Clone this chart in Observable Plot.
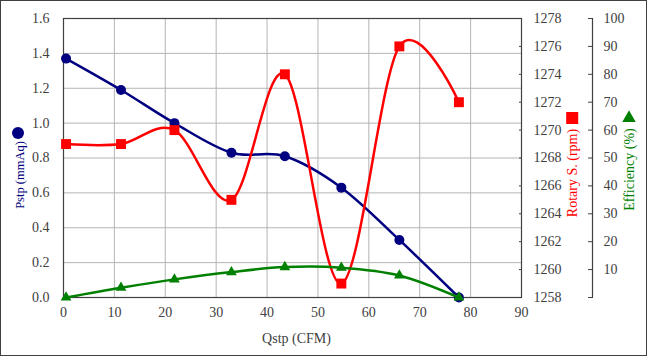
<!DOCTYPE html>
<html>
<head>
<meta charset="utf-8">
<script src="https://cdn.jsdelivr.net/npm/d3@7"></script>
<script src="https://cdn.jsdelivr.net/npm/@observablehq/plot@0.6"></script>
<style>
  html, body { margin: 0; padding: 0; background: white; }
  #wrap { position: relative; width: 647px; height: 356px; overflow: hidden; }
  #wrap svg { position: absolute; left: 0; top: 0; }
  #wrap svg text { font-family: "Liberation Serif", serif; }
  #border { position: absolute; left: 0; top: 0; width: 647px; height: 356px; box-sizing: border-box; border: 1px solid #404040; pointer-events: none; }
</style>
</head>
<body>
<div id="wrap"><div id="border"></div></div>
<script>
// ---- data ----
const qstp = [0.5, 11.3, 21.8, 33.0, 43.5, 54.6, 66.0, 77.7];
const pstp = [1.37, 1.19, 1.00, 0.83, 0.81, 0.63, 0.33, 0.00];
const rpm  = [1269, 1269, 1270, 1265, 1274, 1259, 1276, 1272];
const eff  = [0, 3.5, 6.5, 9.1, 10.9, 10.7, 7.9, 0];

const xTicks = [0, 10, 20, 30, 40, 50, 60, 70, 80, 90];
const pTicks = [0, 0.2, 0.4, 0.6, 0.8, 1.0, 1.2, 1.4, 1.6];
const rTicks = [1258, 1260, 1262, 1264, 1266, 1268, 1270, 1272, 1274, 1276, 1278];
const eTicks = [0, 10, 20, 30, 40, 50, 60, 70, 80, 90, 100];
const eLabelTicks = [10, 20, 30, 40, 50, 60, 70, 80, 90, 100];

const xTitle = "Qstp (CFM)";
const pTitle = "Pstp (mmAq)";
const rTitle = "Rotary S. (rpm)";
const eTitle = "Efficiency (%)";

const rows = qstp.map((q, i) => ({q, p: pstp[i], r: rpm[i], e: eff[i]}));

const NAVY = "#000080", RED = "#ff0000", GREEN = "#008000";
const AX = "#404040", GRID = "#b4b4b4";
const FONT = "Liberation Serif";

const base = {
  width: 647, height: 356,
  marginLeft: 63, marginRight: 126, marginTop: 18, marginBottom: 59,
  x: {domain: [0, 90]}
};
const style = (bg) => ({fontFamily: FONT, fontSize: "14px", color: AX, background: bg, overflow: "visible"});
const txt = {fontFamily: FONT, fontSize: 14, fill: AX};

const A = Plot.plot({
  ...base,
  style: style("white"),
  y: {domain: [0, 1.6], label: null},
  marks: [
    Plot.gridX(xTicks, {stroke: GRID, strokeOpacity: 1}),
    Plot.gridY(pTicks, {stroke: GRID, strokeOpacity: 1}),
    Plot.frame({stroke: AX, strokeWidth: 1.2}),
    Plot.axisX(xTicks, {tickSize: 0, tickPadding: 10, label: null, ...txt}),
    Plot.axisY(pTicks, {tickSize: 0, tickPadding: 14, label: null, tickFormat: d3.format(".1f"), ...txt}),
    Plot.line(rows, {x: "q", y: "p", stroke: NAVY, strokeWidth: 2.5, curve: "cardinal"}),
    Plot.dot(rows, {x: "q", y: "p", r: 5, fill: NAVY}),
    Plot.text([xTitle], {frameAnchor: "bottom", dx: 4, dy: 41, textAnchor: "middle", lineAnchor: "middle", ...txt}),
    Plot.text([pTitle], {frameAnchor: "left", dx: -44, dy: 17, rotate: -90, textAnchor: "middle", lineAnchor: "middle", ...txt, fontSize: 12.5, fill: NAVY}),
    Plot.dot([0], {x: null, y: null, frameAnchor: "left", dx: -45.5, dy: -25, r: 6, fill: NAVY})
  ]
});

const B = Plot.plot({
  ...base,
  style: style("transparent"),
  x: {domain: [0, 90], axis: null},
  y: {domain: [1258, 1278], label: null},
  marks: [
    Plot.axisY(rTicks, {anchor: "right", tickSize: 0, tickPadding: 12, label: null, tickFormat: d3.format("d"), ...txt}),
    Plot.axisY(rTicks, {anchor: "right", tickSize: 3, dx: -3, label: null, tickFormat: () => "", stroke: AX}),
    Plot.line(rows, {x: "q", y: "r", stroke: RED, strokeWidth: 2.5, curve: "cardinal"}),
    Plot.dot(rows, {x: "q", y: "r", symbol: "square", r: 5.6, fill: RED}),
    Plot.text([rTitle], {frameAnchor: "right", dx: 50.7, dy: 15, rotate: -90, textAnchor: "middle", lineAnchor: "middle", ...txt, fill: RED}),
    Plot.dot([0], {x: null, y: null, frameAnchor: "right", dx: 50.7, dy: -40, symbol: "square", r: 6.8, fill: RED})
  ]
});

const C = Plot.plot({
  ...base,
  style: style("transparent"),
  x: {domain: [0, 90], axis: null},
  y: {domain: [0, 100], label: null},
  marks: [
    Plot.ruleX([90], {y1: 0, y2: 100, dx: 71, stroke: AX, strokeWidth: 1.2}),
    Plot.axisY(eTicks, {anchor: "right", tickSize: 5, dx: 66, label: null, tickFormat: () => "", stroke: AX}),
    Plot.axisY(eLabelTicks, {anchor: "right", tickSize: 0, tickPadding: 11, dx: 71, label: null, ...txt}),
    Plot.line(rows, {x: "q", y: "e", stroke: GREEN, strokeWidth: 2.5, curve: "cardinal"}),
    Plot.dot(rows, {x: "q", y: "e", symbol: "triangle", r: 4, fill: GREEN}),
    Plot.text([eTitle], {frameAnchor: "right", dx: 108, dy: 11.5, rotate: -90, textAnchor: "middle", lineAnchor: "middle", ...txt, fill: GREEN}),
    Plot.dot([0], {x: null, y: null, frameAnchor: "right", dx: 107.5, dy: -40, symbol: "triangle", r: 5, fill: GREEN})
  ]
});

const wrap = document.getElementById("wrap");
const border = document.getElementById("border");
wrap.insertBefore(A, border);
wrap.insertBefore(B, border);
wrap.insertBefore(C, border);
</script>
</body>
</html>
